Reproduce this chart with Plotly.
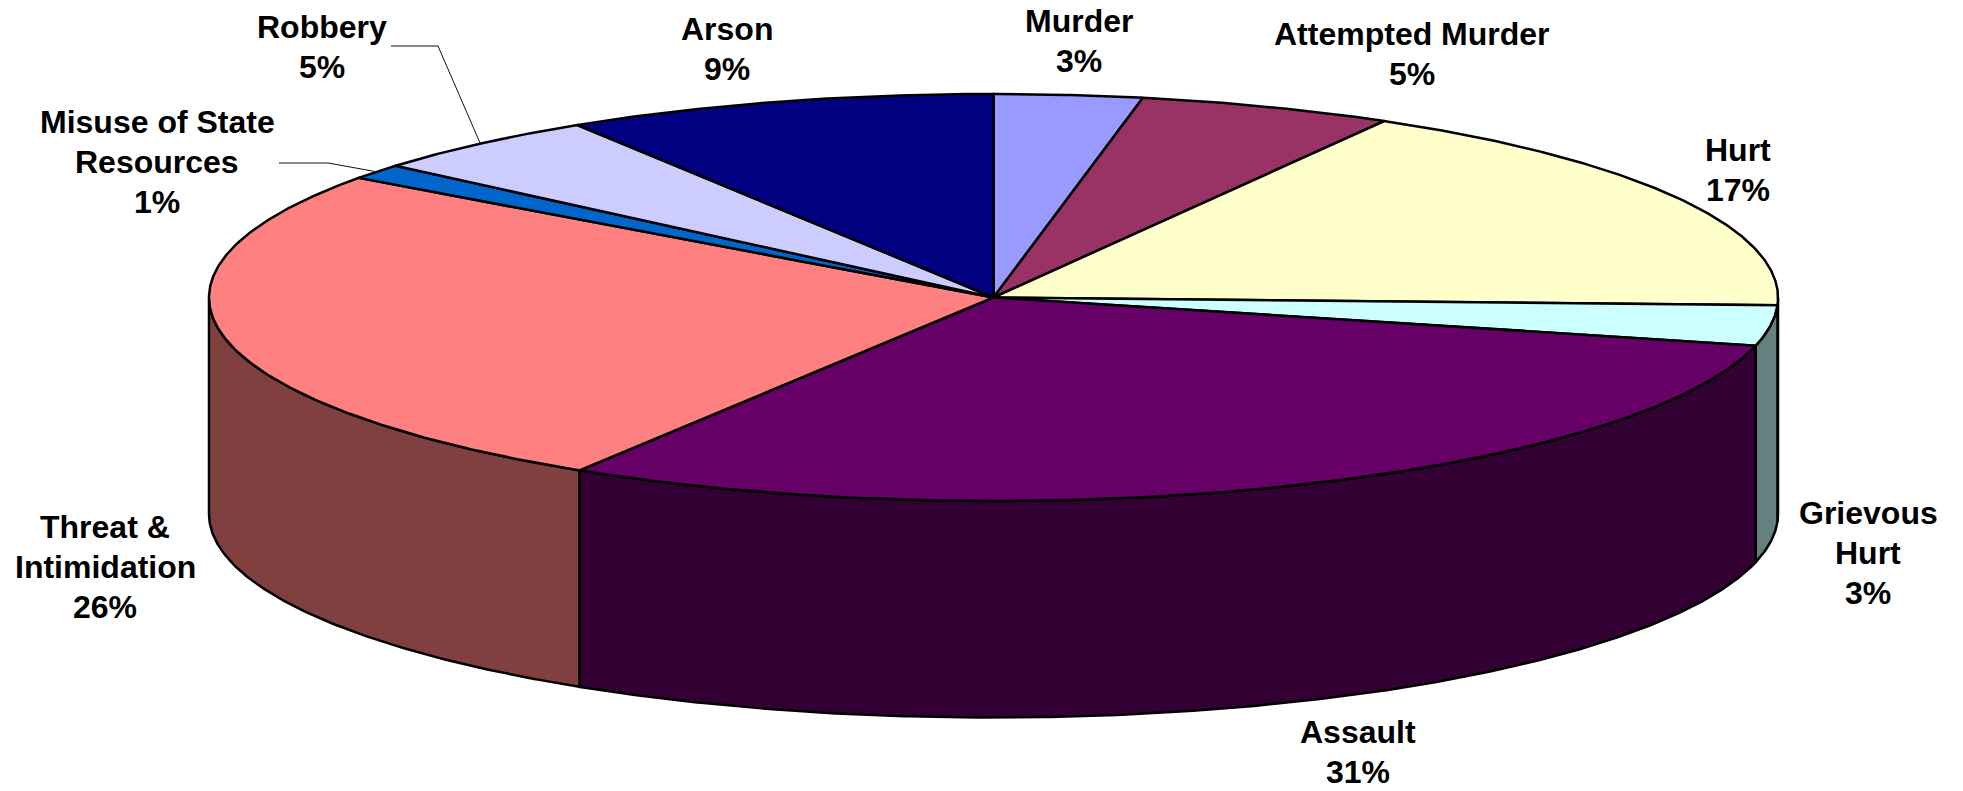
import math
import plotly.graph_objects as go

categories = ["Murder", "Attempted Murder", "Hurt", "Grievous Hurt", "Assault",
              "Threat & Intimidation", "Misuse of State Resources", "Robbery", "Arson"]
values = [3.05, 5.25, 17.3, 3.2, 30.05, 26.15, 1.2, 4.9, 8.9]
percent_labels = ["3%", "5%", "17%", "3%", "31%", "26%", "1%", "5%", "9%"]
label_lines = [["Murder"], ["Attempted Murder"], ["Hurt"], ["Grievous", "Hurt"], ["Assault"],
               ["Threat &", "Intimidation"], ["Misuse of State", "Resources"], ["Robbery"], ["Arson"]]
top_colors = ["#9999FF", "#993366", "#FFFFCC", "#CCFFFF", "#660066",
              "#FF8080", "#0066CC", "#CCCCFF", "#000080"]
side_colors = ["#4D4D80", "#4D1A33", "#808066", "#668080", "#330033",
               "#804040", "#003366", "#666680", "#000040"]

# layout of the drawing, in page pixels
W, H = 1963, 791
CX, CY, RX, RY, DEPTH = 993.5, 297.5, 784.5, 203.5, 216.5
LINE_STEP = 40
label_pos = {
    "Murder": (1079, 41), "Attempted Murder": (1412, 54), "Hurt": (1738, 170),
    "Grievous Hurt": (1868, 553), "Assault": (1358, 752),
    "Threat & Intimidation": (105, 567), "Misuse of State Resources": (157, 162),
    "Robbery": (322, 47), "Arson": (727, 49),
}
leader_elbows = {
    "Robbery": [(391, 46), (438, 46)],
    "Misuse of State Resources": [(279, 163), (328, 163)],
}


def project(deg, drop=0.0):
    t = math.radians(deg)
    return CX + RX * math.sin(t), CY - RY * math.cos(t) + drop


def arc(a, b, drop=0.0):
    n = max(2, int(abs(b - a) * 3) + 2)
    pts = [project(a + (b - a) * i / (n - 1), drop) for i in range(n)]
    return [p[0] for p in pts], [p[1] for p in pts]


total = sum(values)
edges = [0.0]
for v in values:
    edges.append(edges[-1] + v / total * 360)

fig = go.Figure()
line = dict(color="black", width=2.5)

# side walls (only the front half of the rim is visible)
for i in range(len(values)):
    a, b = max(edges[i], 90), min(edges[i + 1], 270)
    if b <= a:
        continue
    xt, yt = arc(a, b)
    xb, yb = arc(a, b, DEPTH)
    fig.add_trace(go.Scatter(x=xt + xb[::-1] + xt[:1], y=yt + yb[::-1] + yt[:1],
                             mode="lines", fill="toself", fillcolor=side_colors[i],
                             line=line, hoverinfo="skip", showlegend=False))

# top face
for i in range(len(values)):
    xa, ya = arc(edges[i], edges[i + 1])
    fig.add_trace(go.Scatter(x=[CX] + xa + [CX], y=[CY] + ya + [CY],
                             mode="lines", fill="toself", fillcolor=top_colors[i],
                             line=line, hoverinfo="skip", showlegend=False))

# leader lines
for name, elbow in leader_elbows.items():
    i = categories.index(name)
    end = project((edges[i] + edges[i + 1]) / 2)
    pts = elbow + [end]
    fig.add_trace(go.Scatter(x=[p[0] for p in pts], y=[p[1] for p in pts], mode="lines",
                             line=dict(color="#111111", width=1),
                             hoverinfo="skip", showlegend=False))

# labels, one annotation per line so the line step can match
for name, lines_, pct in zip(categories, label_lines, percent_labels):
    x, y = label_pos[name]
    rows = lines_ + [pct]
    for k, row in enumerate(rows):
        fig.add_annotation(x=x, y=y + (k - (len(rows) - 1) / 2) * LINE_STEP,
                           xref="x", yref="y", showarrow=False, align="center",
                           xanchor="center", yanchor="middle", text="<b>" + row + "</b>",
                           font=dict(family="Liberation Sans", size=32, color="black"))

fig.update_layout(
    width=W, height=H, margin=dict(l=0, r=0, t=0, b=0),
    paper_bgcolor="white", plot_bgcolor="white", showlegend=False,
    xaxis=dict(range=[0, W], visible=False, fixedrange=True),
    yaxis=dict(range=[H, 0], visible=False, fixedrange=True),
)
fig.write_html("out.html", config={"displayModeBar": False, "responsive": False},
               post_script="document.body.style.margin='0';document.body.style.overflow='hidden';")
